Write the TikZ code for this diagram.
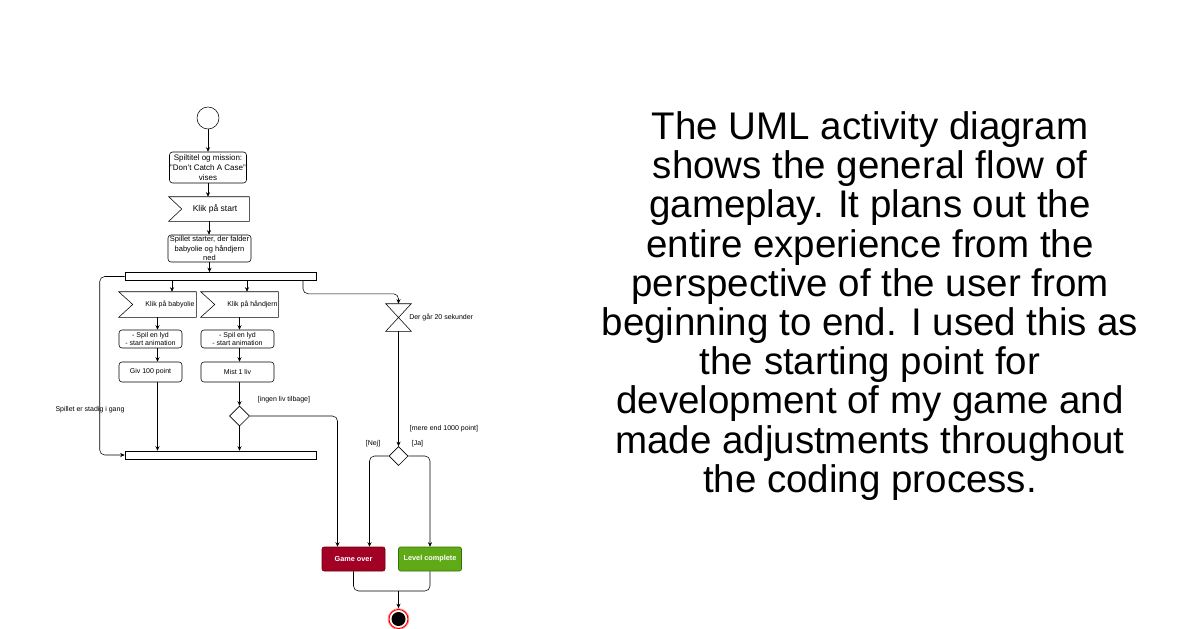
\documentclass[tikz,border=0pt]{standalone}
\usepackage{fontspec}
\setmainfont{Liberation Sans}
\usetikzlibrary{shapes.geometric,arrows.meta,calc}
\definecolor{gored}{HTML}{A20025}
\definecolor{goborder}{HTML}{6F0000}
\definecolor{lcgreen}{HTML}{60A917}
\definecolor{lcborder}{HTML}{2D7600}
\definecolor{halo}{HTML}{FF8080}
\begin{document}
\begin{tikzpicture}[x=1pt,y=-1pt,line width=0.55pt,
  every node/.style={inner sep=0pt},
  small/.style={font=\fontsize{7}{8.5}\selectfont},
  act/.style={draw,rounded corners=3pt,align=center,small},
  evt/.style={align=center,small},
  bar/.style={draw,minimum width=191pt,minimum height=8pt},
  dec/.style={draw,diamond,aspect=1,minimum size=20pt},
  arr/.style={-{Stealth[length=4.5pt,width=4pt]}},
  lbl/.style={small},
  endbox/.style={draw,rounded corners=2pt,minimum width=63pt,minimum height=24pt,text=white,font=\fontsize{7.3}{8.5}\selectfont\bfseries}
]
\useasboundingbox (0,0) rectangle (1200,629);

% nodes
\node[draw,circle,minimum size=22pt] (start) at (208,118) {};
\node[act,minimum width=77pt,minimum height=31pt,font=\fontsize{8}{10}\selectfont] (spil) at (208,167.5) {Spiltitel og mission:\\"Don't Catch A Case"\\vises};
\node[evt,minimum width=80pt,minimum height=24pt,font=\fontsize{8.5}{10}\selectfont] (klikstart) at (209,209) {\hspace{12pt}Klik på start};
\draw (klikstart.north west) -- (klikstart.north east) -- (klikstart.south east) -- (klikstart.south west) -- ($(klikstart.west)+(13,0)$) -- cycle;
\node[act,minimum width=83pt,minimum height=27pt,font=\fontsize{7.5}{9.3}\selectfont] (starter) at (209.5,248.5) {Spillet starter, der falder\\babyolie og håndjern\\ned};
\node[bar] (fork) at (220.5,276.5) {};

\node[evt,minimum width=77pt,minimum height=25pt] (kbaby) at (157.5,304.5) {\hspace{25pt}Klik på babyolie};
\draw (kbaby.north west) -- (kbaby.north east) -- (kbaby.south east) -- (kbaby.south west) -- ($(kbaby.west)+(14,0)$) -- cycle;
\node[evt,minimum width=77pt,minimum height=25pt] (khand) at (239.5,304.5) {\hspace{26pt}Klik på håndjern};
\draw (khand.north west) -- (khand.north east) -- (khand.south east) -- (khand.south west) -- ($(khand.west)+(14,0)$) -- cycle;

\node[act,minimum width=63pt,minimum height=18pt] (lyd1) at (150.5,339) {- Spil en lyd\\- start animation};
\node[act,minimum width=73pt,minimum height=18pt] (lyd2) at (237.5,339) {- Spil en lyd\\- start animation};
\node[act,minimum width=63pt,minimum height=20pt] (giv) at (150.5,372) {Giv 100 point};
\node[act,minimum width=73pt,minimum height=20pt] (mist) at (237.5,372) {Mist 1 liv};
\node[dec] (d1) at (239.5,416) {};
\node[bar] (join) at (220.5,455) {};

\node[minimum width=25pt,minimum height=27pt] (timer) at (398.5,317.5) {};
\draw (timer.north west) -- (timer.north east) -- (timer.south west) -- (timer.south east) -- cycle;
\node[dec,minimum size=19pt] (d2) at (398.5,456) {};

\node[endbox,fill=gored,draw=goborder] (go) at (353.5,559) {Game over};
\node[endbox,fill=lcgreen,draw=lcborder] (lc) at (430,559) {Level complete};
\node[circle,draw=halo,minimum size=21pt,line width=0.6pt] (finhalo) at (398.5,619) {};
\node[circle,draw=red,fill=white,minimum size=19pt,line width=1pt] (fin) at (398.5,619) {};
\node[circle,fill=black,minimum size=14pt] (fininner) at (fin.center) {};

% labels
\node[lbl] (lstadig) at (90,410) {Spillet er stadig i gang};
\node[lbl] (lingen) at (284,400) {[ingen liv tilbage]};
\node[lbl,anchor=west] (l20) at (409,317) {Der går 20 sekunder};
\node[lbl] (lmere) at (444,429) {[mere end 1000 point]};
\node[lbl] (lnej) at (373,444) {[Nej]};
\node[lbl] (lja) at (417.5,444) {[Ja]};

% connectors
\draw[arr] (start.south) -- (start.south |- spil.north);
\draw[arr] (spil.south) -- (spil.south |- klikstart.north);
\draw[arr] (klikstart.south) -- (klikstart.south |- starter.north);
\draw[arr] (starter.south) -- (starter.south |- fork.north);

\draw[arr] ([xshift=14.5pt]kbaby.north |- fork.south) -- ([xshift=14.5pt]kbaby.north);
\draw[arr] ([xshift=7.5pt]khand.north |- fork.south) -- ([xshift=7.5pt]khand.north);

\draw[arr] (kbaby.south) -- (kbaby.south |- lyd1.north);
\draw[arr] (kbaby.south |- lyd1.south) -- (kbaby.south |- giv.north);
\draw[arr] (kbaby.south |- giv.south) -- (kbaby.south |- join.north);
\draw[arr] (khand.south) -- (khand.south |- lyd2.north);
\draw[arr] (khand.south |- lyd2.south) -- (khand.south |- mist.north);
\draw[arr] (khand.south |- mist.south) -- (d1.north);
\draw[arr] (d1.south) -- (d1.south |- join.north);
\draw[arr,rounded corners=5pt] (d1.east) -| ([xshift=-16pt]go.north);

\draw[arr,rounded corners=5pt] (fork.west) -- ++(-25,0) |- (join.west);
\draw[arr,rounded corners=5pt] ([xshift=82.5pt]fork.south) -- ++(0,13) -| (timer.north);
\draw[arr] (timer.south) -- (d2.north);
\draw[arr,rounded corners=5pt] (d2.west) -| ([xshift=16pt]go.north);
\draw[arr,rounded corners=5pt] (d2.east) -| (lc.north);

\coordinate (merge) at (398.5,591);
\draw[rounded corners=5pt] (go.south) |- (merge);
\draw[rounded corners=5pt] (lc.south) |- (merge);
\draw[arr] (merge) -- (finhalo.north);

% description text
\node[align=center,font=\fontsize{38.5}{39.2}\selectfont] (txt) at (870,306) {The UML activity diagram\\shows the general flow of\\gameplay. It plans out the\\entire experience from the\\perspective of the user from\\beginning to end. I used this as\\the starting point for\\development of my game and\\made adjustments throughout\\the coding process.};
\end{tikzpicture}
\end{document}
